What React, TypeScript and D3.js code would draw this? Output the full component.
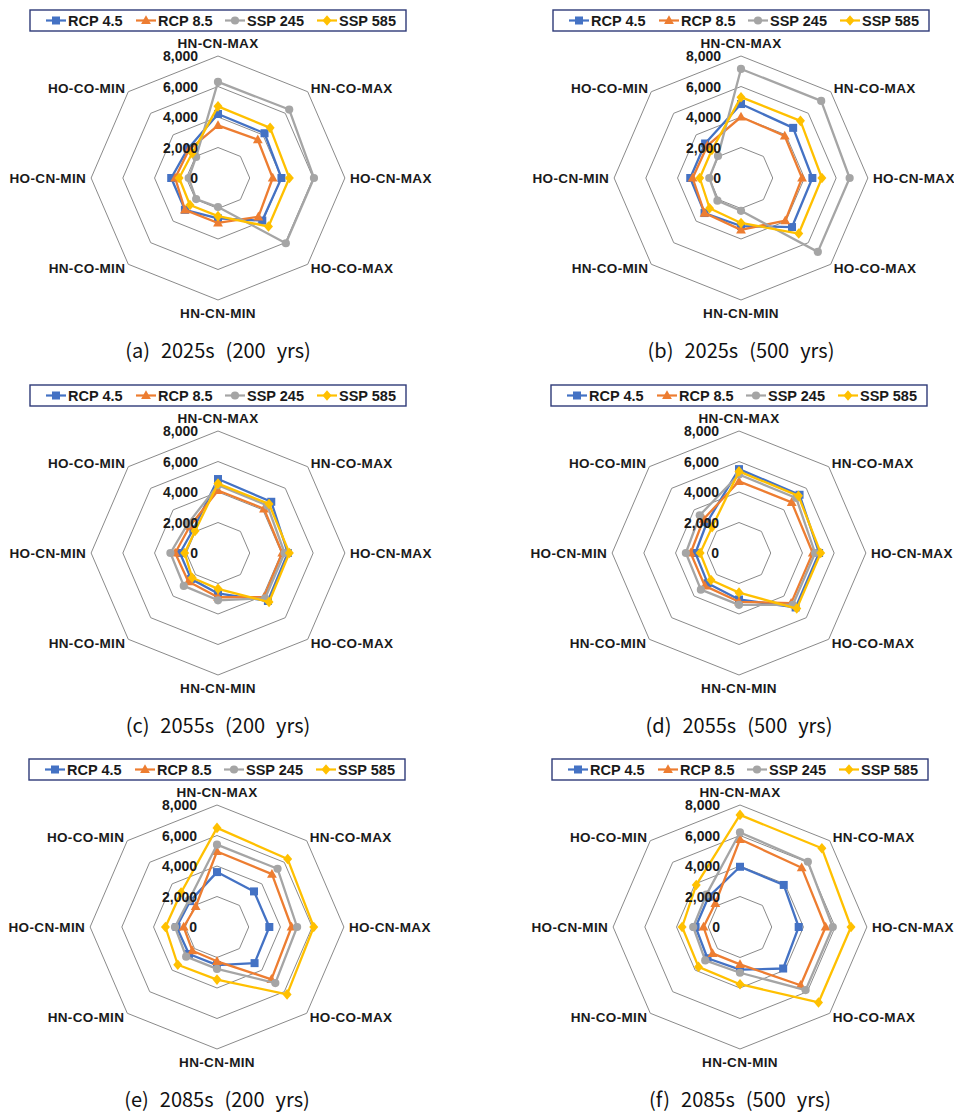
import React from "react";
import * as d3 from "d3";

const AXES = ["HN-CN-MAX", "HN-CO-MAX", "HO-CN-MAX", "HO-CO-MAX", "HN-CN-MIN", "HN-CO-MIN", "HO-CN-MIN", "HO-CO-MIN"];
const TICKS = [0, 2000, 4000, 6000, 8000];
const SERIES_NAMES = ["RCP 4.5", "RCP 8.5", "SSP 245", "SSP 585"];
const SERIES_COLORS = ["#4472C4", "#ED7D31", "#A5A5A5", "#FFC000"];
const SERIES_MARKERS = ["square", "triangle", "circle", "diamond"];

// (a) 2025s (200 yrs)
const a_rcp45 = [4200, 4150, 4000, 3950, 2650, 2950, 2950, 2700];
const a_rcp85 = [3450, 3550, 3450, 3600, 2950, 2950, 2700, 2600];
const a_ssp245 = [6300, 6350, 6050, 6050, 1900, 1950, 1850, 1950];
const a_ssp585 = [4700, 4650, 4500, 4500, 2500, 2500, 2450, 2300];
// (b) 2025s (500 yrs)
const b_rcp45 = [4850, 4650, 4500, 4550, 3150, 3250, 3200, 3200];
const b_rcp85 = [4000, 3900, 3850, 3950, 3400, 3250, 3050, 3000];
const b_ssp245 = [7150, 7150, 6850, 6850, 2150, 2100, 2000, 2050];
const b_ssp585 = [5300, 5300, 5100, 5150, 2950, 2800, 2600, 2600];
// (c) 2055s (200 yrs)
const c_rcp45 = [4850, 4750, 4400, 4450, 2650, 2400, 2400, 2200];
const c_rcp85 = [4100, 4100, 4050, 4100, 2900, 2650, 2700, 2500];
const c_ssp245 = [4450, 4400, 4200, 4200, 3100, 3050, 3000, 2700];
const c_ssp585 = [4550, 4550, 4500, 4550, 2350, 2300, 2100, 2050];
// (d) 2055s (500 yrs)
const d_rcp45 = [5500, 5400, 5050, 5050, 3050, 2800, 2750, 2850];
const d_rcp85 = [4700, 4700, 4650, 4650, 3200, 3050, 3050, 3150];
const d_ssp245 = [5150, 5100, 4800, 4800, 3400, 3400, 3350, 3500];
const d_ssp585 = [5350, 5300, 5150, 5150, 2600, 2500, 2450, 2400];
// (e) 2085s (200 yrs)
const e_rcp45 = [3600, 3300, 3300, 3350, 2500, 2500, 2550, 2400];
const e_rcp85 = [4950, 4900, 4700, 4850, 2250, 2200, 2100, 1900];
const e_ssp245 = [5400, 5400, 5050, 5200, 2750, 2750, 2650, 2500];
const e_ssp585 = [6500, 6300, 6100, 6250, 3450, 3500, 3250, 3200];
// (f) 2085s (500 yrs)
const f_rcp45 = [3950, 3900, 3700, 3850, 2800, 2900, 2800, 2800];
const f_rcp85 = [5750, 5500, 5400, 5400, 2450, 2450, 2300, 2200];
const f_ssp245 = [6200, 6050, 5850, 5850, 3000, 3100, 2950, 3000];
const f_ssp585 = [7350, 7300, 7000, 7000, 3750, 3700, 3650, 3900];

const CAPTIONS = [
  "(a)  2025s  (200  yrs)",
  "(b)  2025s  (500  yrs)",
  "(c)  2055s  (200  yrs)",
  "(d)  2055s  (500  yrs)",
  "(e)  2085s  (200  yrs)",
  "(f)  2085s  (500  yrs)",
];

const PANELS = [
  { data: [a_rcp45, a_rcp85, a_ssp245, a_ssp585], cx: 218, cy: 178 },
  { data: [b_rcp45, b_rcp85, b_ssp245, b_ssp585], cx: 741, cy: 178 },
  { data: [c_rcp45, c_rcp85, c_ssp245, c_ssp585], cx: 218, cy: 553 },
  { data: [d_rcp45, d_rcp85, d_ssp245, d_ssp585], cx: 739, cy: 553 },
  { data: [e_rcp45, e_rcp85, e_ssp245, e_ssp585], cx: 217, cy: 927 },
  { data: [f_rcp45, f_rcp85, f_ssp245, f_ssp585], cx: 740, cy: 927 },
];

const R = 122;
const SX = 1.04;
const rScale = d3.scaleLinear().domain([0, 8000]).range([0, R]);
const angle = (i: number) => (i * 2 * Math.PI) / AXES.length;
const pt = (i: number, v: number): [number, number] => {
  const r = rScale(v);
  return [r * Math.sin(angle(i)) * SX, -r * Math.cos(angle(i))];
};

const FONT = "Arial, 'Liberation Sans', sans-serif";

function Marker({ type, x, y, color }: { type: string; x: number; y: number; color: string }) {
  if (type === "square") return <rect x={x - 4} y={y - 4} width={8} height={8} fill={color} />;
  if (type === "triangle")
    return <path d={`M${x},${y - 5.2}L${x + 4.9},${y + 3.6}L${x - 4.9},${y + 3.6}Z`} fill={color} />;
  if (type === "circle") return <circle cx={x} cy={y} r={4.1} fill={color} />;
  return <path d={`M${x},${y - 5.3}L${x + 4.5},${y}L${x},${y + 5.3}L${x - 4.5},${y}Z`} fill={color} />;
}

const LEGEND_OFFSETS = [16, 106, 195, 287];

function Panel({ data, cx, cy, caption }: { data: number[][]; cx: number; cy: number; caption: string }) {
  const line = d3.line<[number, number]>().curve(d3.curveLinearClosed);
  const outer = AXES.map((_, i) => pt(i, 8000));
  const labelPos = AXES.map((_, i) => {
    const [x, y] = outer[i];
    const s = Math.sin(angle(i));
    const c = Math.cos(angle(i));
    let anchor = "middle";
    let dx = 0;
    let dy = 0;
    if (Math.abs(s) < 0.01) {
      dy = c > 0 ? -13 : 13;
    } else if (Math.abs(c) < 0.01) {
      anchor = s > 0 ? "start" : "end";
      dx = s > 0 ? 5 : -5;
    } else {
      anchor = s > 0 ? "start" : "end";
      dx = s > 0 ? 3 : -3;
      dy = c > 0 ? -4 : 4;
    }
    return { x: x + dx, y: y + dy, anchor };
  });
  const legW = 376;
  const legX = -legW / 2;
  const legY = -168;
  return (
    <g transform={`translate(${cx},${cy})`}>
      <rect x={legX} y={legY} width={legW} height={21} fill="white" stroke="#2E3A78" strokeWidth={1.4} />
      {SERIES_NAMES.map((name, k) => {
        const lx = legX + LEGEND_OFFSETS[k];
        const ly = legY + 10.5;
        return (
          <g key={name}>
            <line x1={lx} x2={lx + 20} y1={ly} y2={ly} stroke={SERIES_COLORS[k]} strokeWidth={2.2} />
            <Marker type={SERIES_MARKERS[k]} x={lx + 10} y={ly} color={SERIES_COLORS[k]} />
            <text x={lx + 22} y={ly} dy="0.36em" fontFamily={FONT} fontWeight="bold" fontSize={14.5} fill="#1a1a1a">
              {name}
            </text>
          </g>
        );
      })}
      {TICKS.filter((t) => t > 0).map((t) => (
        <path
          key={t}
          d={line(AXES.map((_, i) => pt(i, t))) || ""}
          fill="none"
          stroke="#8a8a8a"
          strokeWidth={1}
        />
      ))}
      {data.map((vals, k) => (
        <g key={k}>
          <path
            d={line(vals.map((v, i) => pt(i, v))) || ""}
            fill="none"
            stroke={SERIES_COLORS[k]}
            strokeWidth={2.3}
            strokeLinejoin="round"
          />
          {vals.map((v, i) => {
            const [x, y] = pt(i, v);
            return <Marker key={i} type={SERIES_MARKERS[k]} x={x} y={y} color={SERIES_COLORS[k]} />;
          })}
        </g>
      ))}
      {TICKS.map((t) => (
        <text
          key={t}
          x={-20}
          y={-rScale(t)}
          dy="0.36em"
          textAnchor="end"
          fontFamily={FONT}
          fontWeight="bold"
          fontSize={14}
          fill="#1a1a1a"
        >
          {d3.format(",")(t)}
        </text>
      ))}
      {AXES.map((name, i) => (
        <text
          key={name}
          x={labelPos[i].x}
          y={labelPos[i].y}
          dy="0.36em"
          textAnchor={labelPos[i].anchor as any}
          fontFamily={FONT}
          fontWeight="bold"
          fontSize={13.5}
          letterSpacing={0.35}
          fill="#1a1a1a"
        >
          {name}
        </text>
      ))}
      <text
        x={0}
        y={173}
        dy="0.36em"
        textAnchor="middle"
        fontFamily="'Noto Sans CJK KR', 'Noto Sans', sans-serif"
        fontSize={20}
        wordSpacing={1}
        fill="#111"
        style={{ whiteSpace: "pre" }}
      >
        {caption}
      </text>
    </g>
  );
}

export default function App() {
  return (
    <svg
      width={954}
      height={1114}
      viewBox="0 0 954 1114"
      style={{ position: "absolute", left: 0, top: 0, background: "white" }}
    >
      <rect width={954} height={1114} fill="white" />
      {PANELS.map((p, i) => (
        <Panel key={i} data={p.data} cx={p.cx} cy={p.cy} caption={CAPTIONS[i]} />
      ))}
    </svg>
  );
}
